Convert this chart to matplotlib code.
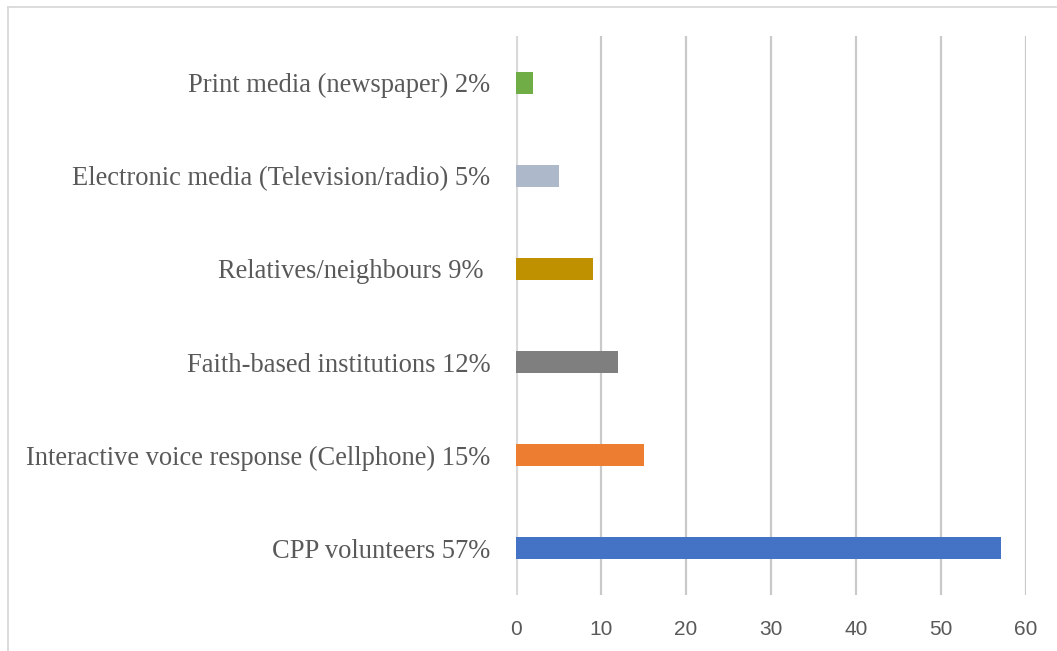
import matplotlib.pyplot as plt
from matplotlib.lines import Line2D

categories = ['CPP volunteers 57%',
              'Interactive voice response (Cellphone) 15%',
              'Faith-based institutions 12%',
              'Relatives/neighbours 9% ',
              'Electronic media (Television/radio) 5%',
              'Print media (newspaper) 2%']
values = [57, 15, 12, 9, 5, 2]
colors = ['#4472C4', '#ED7D31', '#7F7F7F', '#BF9000', '#ADB9CA', '#70AD47']
xticks = [0, 10, 20, 30, 40, 50, 60]

fig = plt.figure(figsize=(10.57, 6.51), dpi=100)
ax = fig.add_axes([0.4882, 0.086, 0.4825, 0.8587])

ypos = list(range(len(categories)))
ax.barh(ypos, values, height=0.235, color=colors, zorder=3)

ax.set_xlim(0, 60)
ax.set_ylim(-0.5, len(categories) - 0.5)
ax.set_xticks(xticks)
ax.set_yticks(ypos)
ax.set_yticklabels(categories, family='Liberation Serif', fontsize=19.1, color='#595959')
for lbl in ax.get_xticklabels():
    lbl.set_family('Liberation Sans')
    lbl.set_fontsize(15)
    lbl.set_color('#595959')
ax.tick_params(axis='both', length=0)
ax.tick_params(axis='y', pad=18.5)
ax.tick_params(axis='x', pad=18)

ax.grid(axis='x', color='#c9c9c9', linewidth=1.6, zorder=0)
for s in ax.spines.values():
    s.set_visible(False)
ax.axvline(0, color='#d9d9d9', linewidth=3, zorder=2)

# light frame round the chart area
fig.add_artist(Line2D([8 / 1057, 8 / 1057], [0, 1 - 7 / 651], transform=fig.transFigure,
                      color='#d9d9d9', linewidth=1.3))
fig.add_artist(Line2D([8 / 1057, 1056 / 1057], [1 - 7 / 651, 1 - 7 / 651], transform=fig.transFigure,
                      color='#d9d9d9', linewidth=1.3))

fig.savefig('out.png', dpi=100)
